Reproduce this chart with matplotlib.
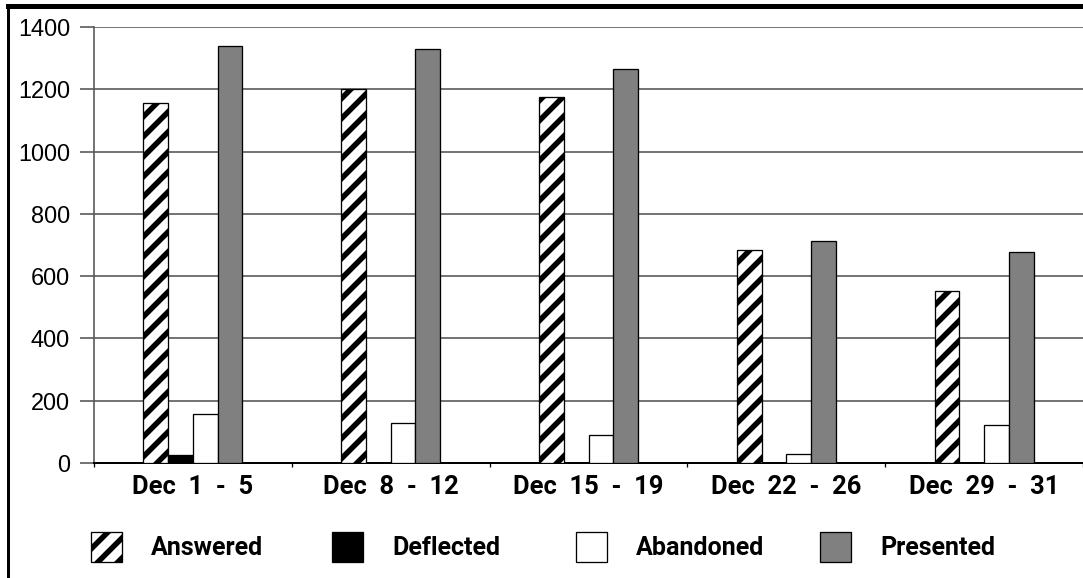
import numpy as np
import matplotlib.pyplot as plt
from matplotlib.lines import Line2D

weeks = ["Dec  1  -  5", "Dec  8  -  12", "Dec  15  -  19", "Dec  22  -  26", "Dec  29  -  31"]
answered = [1156, 1201, 1175, 684, 552]
deflected = [26, 0, 0, 0, 0]
abandoned = [157, 128, 90, 28, 122]
presented = [1339, 1329, 1265, 714, 678]

DPI = 120  # chosen so the '//' hatch spacing matches the original


def px(v):
    # pixel size -> points at this dpi
    return v * 72 / DPI


plt.rcParams["hatch.linewidth"] = px(5.5)
plt.rcParams["hatch.color"] = "black"
label_font = ["Roboto", "DejaVu Sans"]

fig = plt.figure(figsize=(1083 / DPI, 578 / DPI), dpi=DPI)
ax = fig.add_axes([94 / 1083, 1 - 463 / 578, 1 - 94 / 1083, 436 / 578])

x = np.arange(len(weeks))
w = 0.125
series = [
    (answered, "Answered", dict(facecolor="white", hatch="//")),
    (deflected, "Deflected", dict(facecolor="black")),
    (abandoned, "Abandoned", dict(facecolor="white")),
    (presented, "Presented", dict(facecolor="#808080")),
]
handles = []
for i, (vals, name, style) in enumerate(series):
    b = ax.bar(x + (i - 1.5) * w, vals, w, edgecolor="black", linewidth=px(1.3),
               label=name, zorder=3, **style)
    handles.append(b)

ax.set_xlim(-0.5, len(weeks) - 0.5)
ax.set_ylim(0, 1400)
ax.set_yticks(range(0, 1401, 200))
ax.set_yticklabels([str(v) for v in range(0, 1401, 200)], fontsize=px(23.5),
                   family="Liberation Sans")
ax.yaxis.grid(True, color="#555555", linewidth=px(1.6))
ax.tick_params(axis="y", length=px(14), width=px(1.6), color="#555555", pad=px(10))

ax.set_xticks(x)
ax.set_xticklabels(weeks, fontsize=px(25.5), fontweight="bold", family=label_font)
ax.set_xticks(np.arange(-0.5, len(weeks)), minor=True)
ax.tick_params(axis="x", which="major", length=0, pad=px(12))
ax.tick_params(axis="x", which="minor", length=px(4), width=px(1.3), color="black")

for s in ["top", "right"]:
    ax.spines[s].set_visible(False)
ax.spines["left"].set_color("#555555")
ax.spines["left"].set_linewidth(px(1.6))
ax.spines["bottom"].set_linewidth(px(2))

# one legend entry per series, placed like the original
legend_x = [91, 332, 576, 820]
for h, lx in zip(handles, legend_x):
    fig.legend(handles=[h], loc="center left", bbox_to_anchor=(lx / 1083, 1 - 547 / 578),
               frameon=False, prop=dict(family=label_font, weight="bold", size=px(25)),
               handlelength=1.25, handleheight=1.5, handletextpad=1.15,
               borderaxespad=0, borderpad=0)

# outer frame (left and top edges)
fig.add_artist(Line2D([8 / 1083, 8 / 1083], [0, 1 - 5 / 578], color="black", linewidth=px(3),
                      transform=fig.transFigure))
fig.add_artist(Line2D([8 / 1083, 1], [1 - 6 / 578, 1 - 6 / 578], color="black", linewidth=px(5),
                      transform=fig.transFigure))

fig.savefig("out.png", dpi=DPI)
